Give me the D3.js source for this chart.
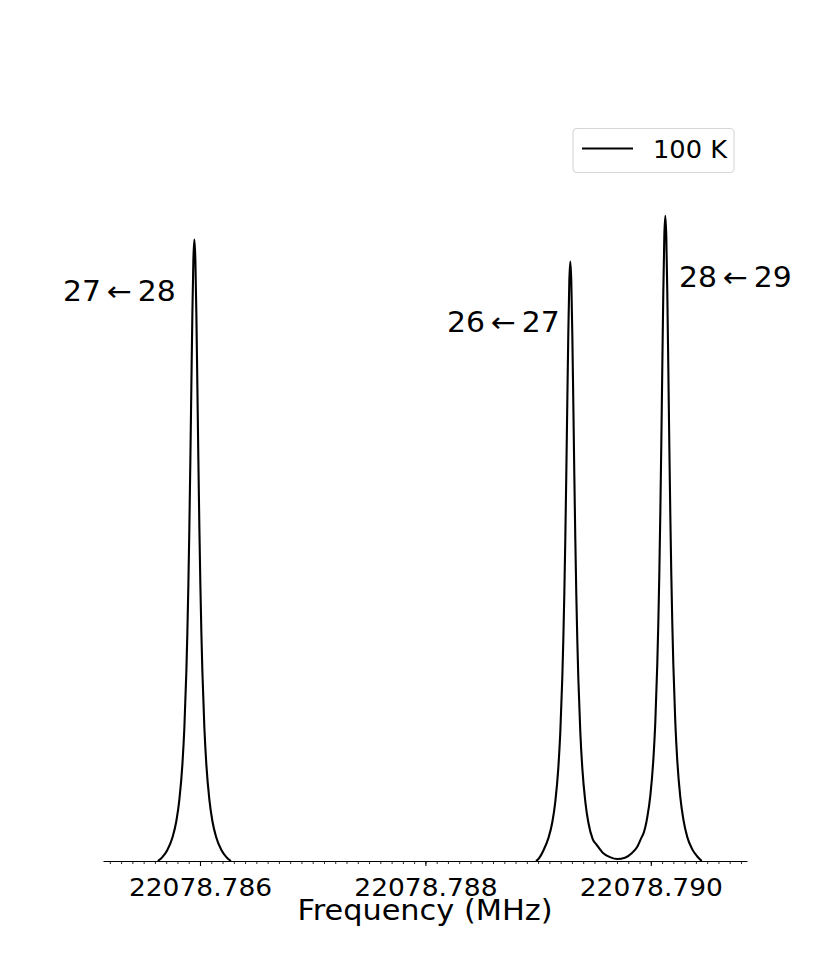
<!DOCTYPE html>
<html>
<head>
<meta charset="utf-8">
<script src="https://cdn.jsdelivr.net/npm/d3@7"></script>
<style>
  body { margin: 0; background: #fff; }
  text { font-family: "DejaVu Sans", sans-serif; fill: #000; }
</style>
</head>
<body>
<div id="chart"></div>
<script>
/** spectrum values: frequency (MHz) and relative intensity */

/** first line, 27 <- 28 */
var freqA = [
  22078.7856261, 22078.7856661, 22078.7857104, 22078.7857548, 22078.7857903, 22078.7858169,
  22078.7858435, 22078.7858613, 22078.7858790, 22078.7858879, 22078.7858968, 22078.7859056,
  22078.7859145, 22078.7859234, 22078.7859323, 22078.7859411, 22078.7859500, 22078.7859589,
  22078.7859677, 22078.7859766, 22078.7859855, 22078.7859944, 22078.7860032, 22078.7860121,
  22078.7860210, 22078.7860387, 22078.7860565, 22078.7860831, 22078.7861097, 22078.7861452,
  22078.7861896, 22078.7862339, 22078.7862739
];
var intA = [
  0, 0.006, 0.017, 0.036, 0.062, 0.095,
  0.149, 0.207, 0.294, 0.354, 0.428, 0.517,
  0.622, 0.737, 0.848, 0.931, 0.963, 0.931,
  0.848, 0.737, 0.622, 0.517, 0.428, 0.354,
  0.294, 0.207, 0.149, 0.095, 0.062, 0.036,
  0.017, 0.006, 0
];

/** the pair 26 <- 27 and 28 <- 29 */
var freqB = [
  22078.7889814, 22078.7890106, 22078.7890461, 22078.7890905, 22078.7891260, 22078.7891526,
  22078.7891792, 22078.7891970, 22078.7892147, 22078.7892236, 22078.7892325, 22078.7892413,
  22078.7892502, 22078.7892591, 22078.7892680, 22078.7892768, 22078.7892857, 22078.7892946,
  22078.7893034, 22078.7893123, 22078.7893212, 22078.7893301, 22078.7893389, 22078.7893478,
  22078.7893567, 22078.7893744, 22078.7893922, 22078.7894188, 22078.7894454, 22078.7894844,
  22078.7895199, 22078.7895785, 22078.7896379, 22078.7897027, 22078.7897710, 22078.7898305,
  22078.7898801, 22078.7899192,
  22078.7899334, 22078.7899689, 22078.7899955, 22078.7900221, 22078.7900399, 22078.7900576,
  22078.7900665, 22078.7900754, 22078.7900842, 22078.7900931, 22078.7901020, 22078.7901109,
  22078.7901197, 22078.7901286, 22078.7901375, 22078.7901463, 22078.7901552, 22078.7901641,
  22078.7901730, 22078.7901818, 22078.7901907, 22078.7901996, 22078.7902173, 22078.7902351,
  22078.7902617, 22078.7902883, 22078.7903238, 22078.7903682, 22078.7904125, 22078.7904516
];
var intB = [
  0, 0.005, 0.016, 0.035, 0.060, 0.092,
  0.144, 0.200, 0.284, 0.342, 0.413, 0.499,
  0.600, 0.711, 0.818, 0.898, 0.929, 0.898,
  0.818, 0.711, 0.600, 0.499, 0.413, 0.342,
  0.284, 0.200, 0.144, 0.092, 0.060, 0.034,
  0.025, 0.012, 0.006, 0.003, 0.005, 0.012,
  0.022, 0.037,
  0.042, 0.068, 0.101, 0.156, 0.215, 0.306,
  0.368, 0.444, 0.537, 0.646, 0.766, 0.881,
  0.967, 1.000, 0.967, 0.881, 0.766, 0.646,
  0.537, 0.444, 0.368, 0.306, 0.215, 0.155,
  0.099, 0.065, 0.037, 0.018, 0.007, 0
];

/** axis ticks */
var xMajorTicks = [22078.786, 22078.788, 22078.790];
var xDomain = [22078.7851393, 22078.7908535];

/** transition labels, anchored in data units */
var labelText = ["27\u2009\u2190\u200928", "26\u2009\u2190\u200927", "28\u2009\u2190\u200929"];
var labelFreq = [22078.7847844, 22078.7881916, 22078.7902500];
var labelInt = [0.868, 0.820, 0.8895];

var legendLabel = "100 K";

/** the picture is a little wider than tall, so text is stretched sideways */
var stretch = "scale(1.085,1)";

/** size and margins */
var width = 830, height = 969;
var margin = {top: 119, right: 83, bottom: 108, left: 103},
    w = width - margin.left - margin.right,
    h = height - margin.top - margin.bottom;

var svg = d3.select("#chart")
  .append("svg")
    .attr("width", width)
    .attr("height", height)
  .append("g")
    .attr("transform", "translate(" + margin.left + "," + margin.top + ")");

var x = d3.scaleLinear().domain(xDomain).range([0, w]);
var y = d3.scaleLinear().domain([0, 1.15]).range([h, 0]);

/** minor ticks every 0.0001 MHz */
var minorTicks = d3.range(0, 57).map(function(i) { return 22078.7852 + i * 0.0001; });
var minorAxis = svg.append("g")
  .attr("transform", "translate(0," + h + ")")
  .call(d3.axisBottom(x).tickValues(minorTicks).tickFormat("").tickSize(3).tickSizeOuter(0));
minorAxis.select(".domain").remove();
minorAxis.selectAll("line").attr("stroke-width", 0.85);

/** major ticks and the bottom spine */
var xAxis = svg.append("g")
  .attr("transform", "translate(0," + h + ")")
  .call(d3.axisBottom(x)
    .tickValues(xMajorTicks)
    .tickFormat(d3.format(".3f"))
    .tickSize(5)
    .tickSizeOuter(0)
    .tickPadding(12));
xAxis.attr("font-family", null).attr("font-size", null);
xAxis.select(".domain").attr("stroke-width", 1.1);
xAxis.selectAll("line").attr("stroke-width", 1.1);
xAxis.selectAll("text")
  .style("font-size", "25px")
  .attr("transform", "scale(1.06,1)");

svg.append("text")
  .attr("transform", "translate(" + (w / 2) + ",801) " + stretch)
  .attr("text-anchor", "middle")
  .style("font-size", "28px")
  .text("Frequency (MHz)");

/** the spectrum, drawn as two pieces */
var line = d3.line()
  .x(function(d) { return x(d[0]); })
  .y(function(d) { return y(d[1]); })
  .curve(d3.curveMonotoneX);

var pieces = [d3.zip(freqA, intA), d3.zip(freqB, intB)];
svg.selectAll("path.spec")
  .data(pieces)
  .enter()
  .append("path")
    .attr("class", "spec")
    .attr("d", line)
    .attr("fill", "none")
    .attr("stroke", "#000")
    .attr("stroke-width", 2.1)
    .attr("stroke-linejoin", "round");

/** transition labels */
svg.selectAll("text.lab")
  .data(labelText)
  .enter()
  .append("text")
    .attr("class", "lab")
    .attr("transform", function(d, i) {
      return "translate(" + x(labelFreq[i]) + "," + y(labelInt[i]) + ") " + stretch;
    })
    .style("font-size", "27.5px")
    .text(function(d) { return d; });

/** legend, upper right */
var leg = svg.append("g")
  .attr("transform", "translate(" + (w - 174) + "," + 9.5 + ")");
leg.append("rect")
  .attr("width", 161)
  .attr("height", 44)
  .attr("rx", 4)
  .attr("fill", "#fff")
  .attr("fill-opacity", 0.8)
  .attr("stroke", "#d6d6d6")
  .attr("stroke-width", 1.1);
leg.append("line")
  .attr("x1", 9).attr("x2", 60)
  .attr("y1", 20).attr("y2", 20)
  .attr("stroke", "#000")
  .attr("stroke-width", 2.1);
leg.append("text")
  .attr("transform", "translate(80,29) scale(1.07,1)")
  .style("font-size", "24px")
  .text(legendLabel);
</script>
</body>
</html>
